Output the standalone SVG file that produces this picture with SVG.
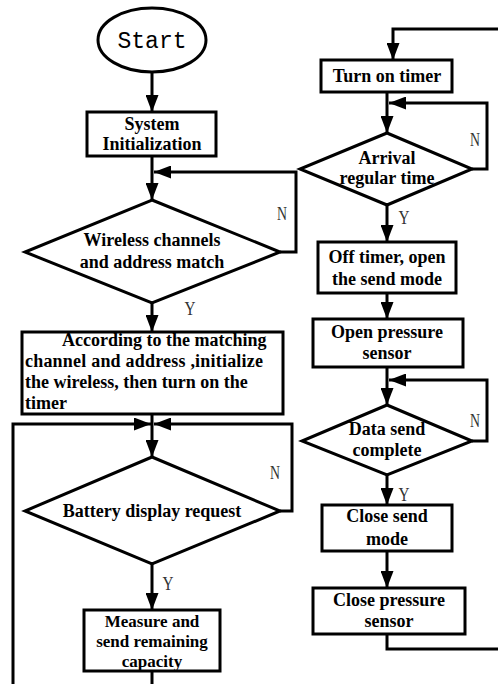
<svg xmlns="http://www.w3.org/2000/svg" width="498" height="684" viewBox="0 0 498 684">
<style>
.shape{fill:#fff;stroke:#000;stroke-width:3}
.t{font-family:"Liberation Serif","Times New Roman",serif;font-weight:bold;font-size:18px;fill:#000}
.s{font-size:17px}
.c{text-anchor:middle}
.yn{font-family:"Liberation Serif","Times New Roman",serif;font-size:18px;fill:#333;text-anchor:middle}
.ln{fill:none;stroke:#000;stroke-width:3}
</style>
<defs>
<marker id="ah" viewBox="0 0 17 13" refX="17" refY="6.5" markerWidth="17" markerHeight="13" markerUnits="userSpaceOnUse" orient="auto">
<path d="M0,0 L17,6.5 L0,13 z" fill="#000"/>
</marker>
</defs>
<rect width="498" height="684" fill="#fff"/>
<g id="connectors">
<path class="ln" d="M152,72 V112" marker-end="url(#ah)"/>
<path class="ln" d="M152,156 V200" marker-end="url(#ah)"/>
<path class="ln" d="M280,252 H296 V172 H154" marker-end="url(#ah)"/>
<path class="ln" d="M152,303 V332" marker-end="url(#ah)"/>
<path class="ln" d="M152,414 V457" marker-end="url(#ah)"/>
<path class="ln" d="M13,684 V424 H151" marker-end="url(#ah)"/>
<path class="ln" d="M280,511 H292 V424 H154" marker-end="url(#ah)"/>
<path class="ln" d="M152,564 V610" marker-end="url(#ah)"/>
<path class="ln" d="M152,671 V684"/>
<path class="ln" d="M498,29 H393 V60" marker-end="url(#ah)"/>
<path class="ln" d="M387,92 V133" marker-end="url(#ah)"/>
<path class="ln" d="M472,169 H487 V103 H389" marker-end="url(#ah)"/>
<path class="ln" d="M387,205 V242" marker-end="url(#ah)"/>
<path class="ln" d="M387,293 V319" marker-end="url(#ah)"/>
<path class="ln" d="M387,367 V405" marker-end="url(#ah)"/>
<path class="ln" d="M472,441 H487 V380 H389" marker-end="url(#ah)"/>
<path class="ln" d="M387,475 V505" marker-end="url(#ah)"/>
<path class="ln" d="M387,551 V588" marker-end="url(#ah)"/>
<path class="ln" d="M387,634 V649 H498"/>
<text class="yn" x="190" y="315" textLength="11" lengthAdjust="spacingAndGlyphs">Y</text>
<text class="yn" x="282" y="220" textLength="10" lengthAdjust="spacingAndGlyphs">N</text>
<text class="yn" x="168" y="590" textLength="11" lengthAdjust="spacingAndGlyphs">Y</text>
<text class="yn" x="275" y="479" textLength="10" lengthAdjust="spacingAndGlyphs">N</text>
<text class="yn" x="404" y="224" textLength="11" lengthAdjust="spacingAndGlyphs">Y</text>
<text class="yn" x="475" y="146" textLength="10" lengthAdjust="spacingAndGlyphs">N</text>
<text class="yn" x="404" y="501" textLength="11" lengthAdjust="spacingAndGlyphs">Y</text>
<text class="yn" x="475" y="427" textLength="10" lengthAdjust="spacingAndGlyphs">N</text>
</g>
<g id="start">
<ellipse class="shape" cx="152" cy="40" rx="54" ry="32"/>
<text x="152" y="48" text-anchor="middle" font-family="'Liberation Mono','Courier New',monospace" font-size="23">Start</text>
</g>
<g id="sysinit">
<rect class="shape" x="87" y="112" width="129" height="44"/>
<text class="t c" x="152" y="130">System</text>
<text class="t c" x="152" y="150">Initialization</text>
</g>
<g id="wireless">
<polygon class="shape" points="152,200 280,252 152,303 25,252"/>
<text class="t c" x="152" y="246">Wireless channels</text>
<text class="t c" x="152" y="268">and address match</text>
</g>
<g id="according">
<rect class="shape" x="22" y="332" width="261" height="82"/>
<text class="t" x="62" y="346">According to the matching</text>
<text class="t" x="25" y="367" textLength="238" lengthAdjust="spacing">channel and address ,initialize</text>
<text class="t" x="25" y="388">the wireless, then turn on the</text>
<text class="t" x="25" y="409">timer</text>
</g>
<g id="battery">
<polygon class="shape" points="152,457 280,511 152,564 25,511"/>
<text class="t c" x="152" y="517">Battery display request</text>
</g>
<g id="measure">
<rect class="shape" x="84" y="610" width="136" height="61"/>
<text class="t s c" x="152" y="627">Measure and</text>
<text class="t s c" x="152" y="647">send remaining</text>
<text class="t s c" x="152" y="667">capacity</text>
</g>
<g id="turnon">
<rect class="shape" x="321" y="60" width="131" height="32"/>
<text class="t c" x="387" y="82">Turn on timer</text>
</g>
<g id="arrival">
<polygon class="shape" points="387,133 472,169 387,205 300,169"/>
<text class="t c" x="387" y="164">Arrival</text>
<text class="t c" x="387" y="184">regular time</text>
</g>
<g id="offtimer">
<rect class="shape" x="318" y="242" width="138" height="51"/>
<text class="t c" x="387" y="263">Off timer, open</text>
<text class="t c" x="387" y="285">the send mode</text>
</g>
<g id="openpressure">
<rect class="shape" x="313" y="319" width="150" height="48"/>
<text class="t c" x="387" y="338">Open pressure</text>
<text class="t c" x="387" y="359">sensor</text>
</g>
<g id="datasend">
<polygon class="shape" points="387,405 472,441 387,475 302,441"/>
<text class="t c" x="387" y="435">Data send</text>
<text class="t c" x="387" y="456">complete</text>
</g>
<g id="closesend">
<rect class="shape" x="322" y="505" width="130" height="46"/>
<text class="t c" x="387" y="522">Close send</text>
<text class="t c" x="387" y="545">mode</text>
</g>
<g id="closepressure">
<rect class="shape" x="313" y="588" width="152" height="46"/>
<text class="t c" x="389" y="606">Close pressure</text>
<text class="t c" x="389" y="627">sensor</text>
</g>
</svg>
